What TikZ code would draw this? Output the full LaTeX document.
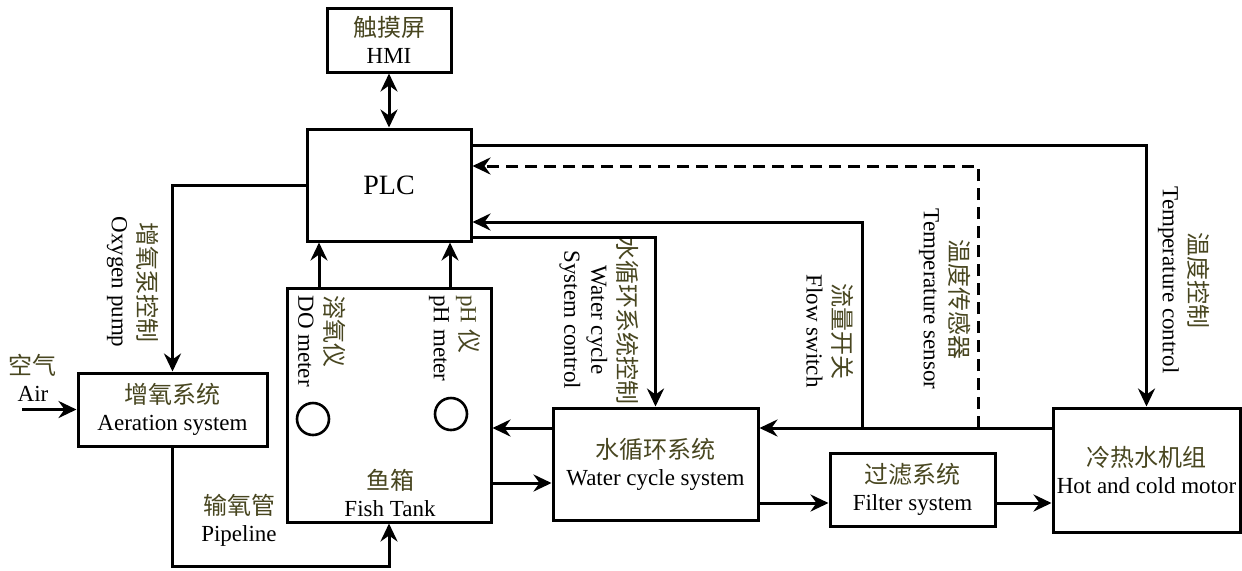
\documentclass[tikz,border=0pt]{standalone}
\usepackage{fontspec}
\setmainfont{Liberation Serif}
\newfontfamily\cjk{Noto Sans CJK SC}
\usetikzlibrary{arrows.meta}
\definecolor{zhcol}{RGB}{72,70,32}
\newcommand\zh[1]{{\cjk\fontsize{12}{13.5}\selectfont\color{zhcol}#1}}
\begin{document}
\begin{tikzpicture}[x=0.5pt, y=-0.5pt, font=\fontsize{11.5}{13.5}\selectfont,
  box/.style={draw, line width=1.5pt, inner sep=0pt, align=center},
  tip/.tip={Stealth[length=9pt,width=8.5pt,inset=3pt]},
  arr/.style={line width=1.5pt, -tip},
  arrtwo/.style={line width=1.5pt, tip-tip},
  vlab/.style={rotate=-90, align=center, inner sep=0pt},
  lab/.style={align=center, inner sep=0pt},
  sensor/.style={circle, draw, line width=1.3pt, minimum size=16pt, inner sep=0pt}]
\useasboundingbox (0,0) rectangle (1242,570);
% boxes
\node[box, minimum width=62pt, minimum height=32pt] (hmi) at (389,40) {\zh{触摸屏}\\HMI};
\node[box, minimum width=82pt, minimum height=56pt, font=\fontsize{14}{16}\selectfont] (plc) at (389,185) {PLC};
\node[box, minimum width=94.5pt, minimum height=36.5pt] (aer) at (172.5,409.5) {\zh{增氧系统}\\Aeration system};
\node[box, minimum width=102pt, minimum height=117pt] (tank) at (389,405) {};
\node[lab] (tanklab) at (390,493) {\zh{鱼箱}\\Fish Tank};
\node[box, minimum width=102.5pt, minimum height=56pt] (wcs) at (655.5,464) {\zh{水循环系统}\\Water cycle system};
\node[box, minimum width=82.5pt, minimum height=36.5pt] (filt) at (912.5,489.5) {\zh{过滤系统}\\Filter system};
\node[box, minimum width=93.5pt, minimum height=62pt] (mot) at (1146.5,470) {\zh{冷热水机组}\\Hot and cold motor};
% sensors
\node[sensor] (doc) at (313,419) {};
\node[sensor] (phc) at (451,414) {};
% labels
\node[vlab] (oxy) at (133,282) {\zh{增氧泵控制}\\Oxygen pump};
\node[vlab, align=left, anchor=west] (dol) at (322,295) {\zh{溶氧仪}\\DO meter};
\node[vlab, align=left, anchor=west] (phl) at (455,295) {{\color{zhcol}pH} \zh{仪}\\pH meter};
\node[vlab] (wcc) at (599,320) {\zh{水循环系统控制}\\Water cycle\\System control};
\node[vlab] (fsl) at (830,331) {\zh{流量开关}\\Flow switch};
\node[vlab] (tsl) at (945,299) {\zh{温度传感器}\\Temperature sensor};
\node[vlab] (tcl) at (1184,280) {\zh{温度控制}\\Temperature control};
\node[lab] (pipel) at (239,520) {\zh{输氧管}\\Pipeline};
\node[lab] (airl) at (33,378) {\zh{空气}\\Air};
% coordinates
\coordinate (airs) at (22,409.5);
\coordinate (pb) at (0,566);
\coordinate (dox) at (319,0);
\coordinate (phx) at (450,0);
\coordinate (y145) at (0,145);
\coordinate (y166) at (0,166);
\coordinate (y222) at (0,222);
\coordinate (y237) at (0,237);
\coordinate (y428) at (0,428);
\coordinate (y483) at (0,483);
\coordinate (y503) at (0,503);
\coordinate (fs) at (862,428);
\coordinate (ts) at (978,428);
% connectors
\draw[arrtwo] (hmi.south) -- (plc.north);
\draw[arr] (plc.west) -| (aer.north);
\draw[arr] (airs) -- (aer.west);
\draw[arr] (aer.south) |- (pb -| tank.south) -- (tank.south);
\draw[arr] (tank.north -| dox) -- (plc.south -| dox);
\draw[arr] (tank.north -| phx) -- (plc.south -| phx);
\draw[arr] (plc.east |- y237) -| (wcs.north);
\draw[arr] (plc.east |- y145) -| (mot.north);
\draw[arr] (fs) |- (plc.east |- y222);
\draw[arr, dash pattern=on 6pt off 3.5pt] (ts) |- (plc.east |- y166);
\draw[arr] (mot.west |- y428) -- (wcs.east |- y428);
\draw[arr] (wcs.west |- y428) -- (tank.east |- y428);
\draw[arr] (tank.east |- y483) -- (wcs.west |- y483);
\draw[arr] (wcs.east |- y503) -- (filt.west |- y503);
\draw[arr] (filt.east |- y503) -- (mot.west |- y503);
\end{tikzpicture}
\end{document}
